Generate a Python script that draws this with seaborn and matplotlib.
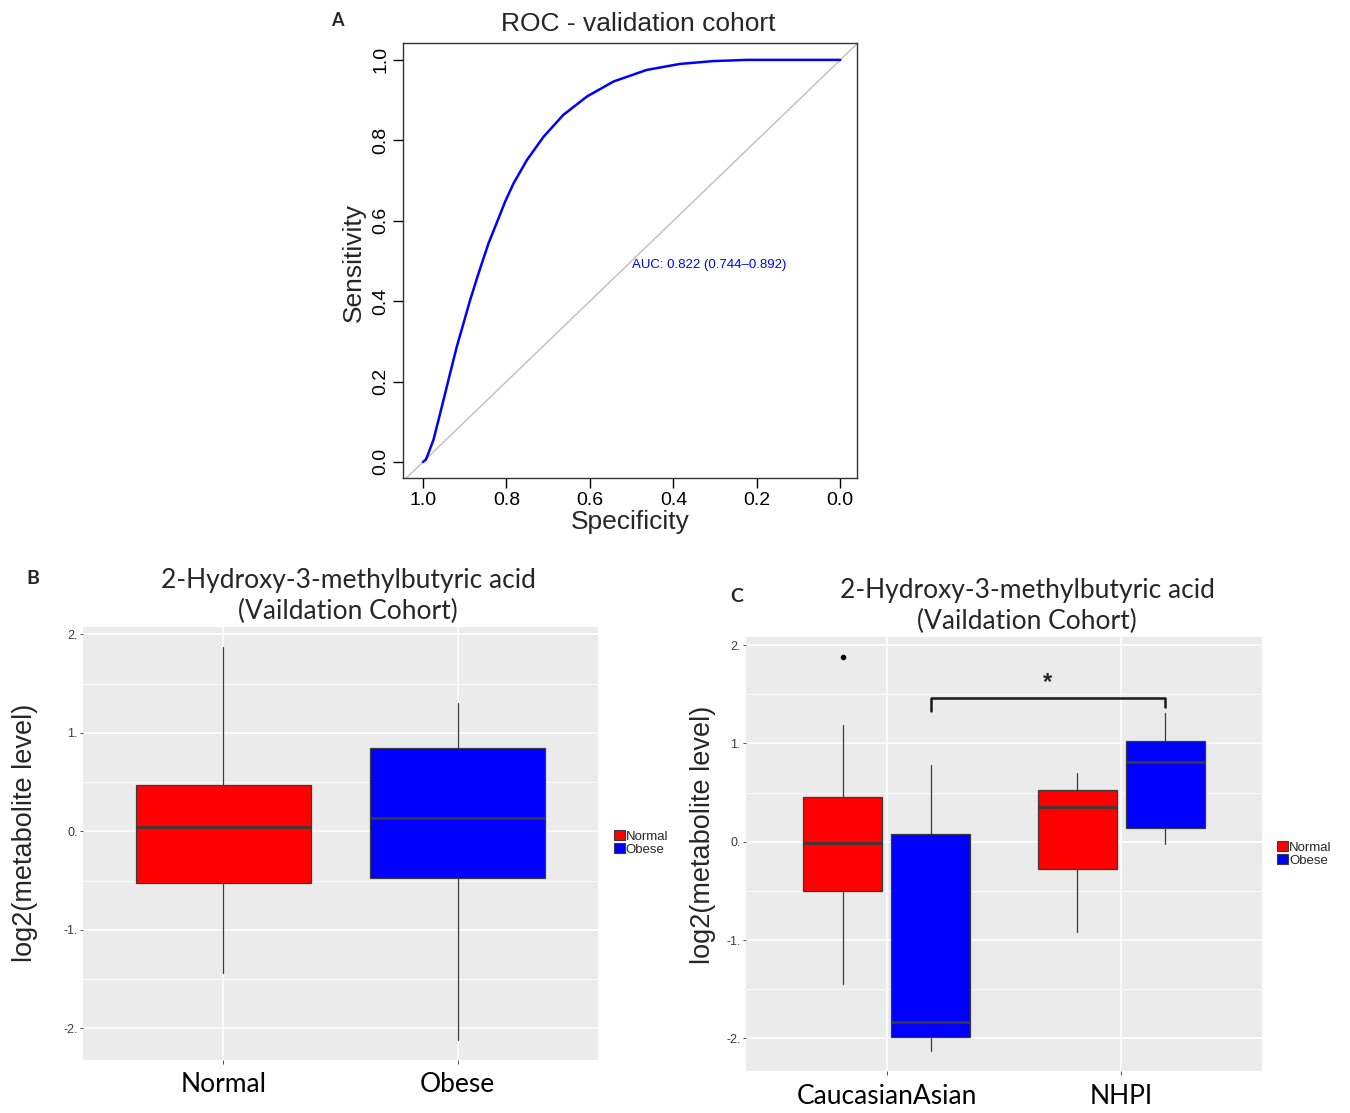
import numpy as np
import pandas as pd
import matplotlib
matplotlib.use("Agg")
import matplotlib.pyplot as plt
import seaborn as sns
from matplotlib.patches import Patch

sns.set_theme(style="white")
plt.rcParams['font.family'] = ['Liberation Sans', 'DejaVu Sans']

# ---------------- data ----------------
# Panel A: ROC curve (specificity, sensitivity)
roc_specificity = [1.0, 0.993, 0.987, 0.975, 0.963, 0.949, 0.935, 0.919, 0.903, 0.887,
                   0.867, 0.843, 0.819, 0.803, 0.783, 0.751, 0.711, 0.664, 0.607,
                   0.544, 0.464, 0.384, 0.304, 0.224, 0.144, 0.0]
roc_sensitivity = [0.0, 0.006, 0.022, 0.055, 0.104, 0.162, 0.221, 0.287, 0.345, 0.403,
                   0.469, 0.544, 0.606, 0.648, 0.693, 0.751, 0.809, 0.863, 0.909,
                   0.946, 0.975, 0.990, 0.997, 1.0, 1.0, 1.0]
auc_text = "AUC: 0.822 (0.744\u20130.892)"

# Panel B: box summaries by group
groups_b = ["Normal", "Obese"]
b_whislo = [-1.44, -2.12]
b_q1 = [-0.527, -0.47]
b_med = [0.046, 0.135]
b_q3 = [0.473, 0.847]
b_whishi = [1.875, 1.30]

# Panel C: box summaries by ethnicity (x) and status (hue)
ethnicity_c = ["CaucasianAsian", "NHPI"]
status_c = ["Normal", "Obese"]
c_normal_whislo = [-1.446, -0.918]
c_normal_q1 = [-0.503, -0.278]
c_normal_med = [-0.018, 0.355]
c_normal_q3 = [0.454, 0.531]
c_normal_whishi = [1.186, 0.70]
c_normal_fliers = [[1.882], []]
c_obese_whislo = [-2.132, -0.021]
c_obese_q1 = [-1.988, 0.137]
c_obese_med = [-1.833, 0.806]
c_obese_q3 = [0.077, 1.024]
c_obese_whishi = [0.781, 1.309]
c_obese_fliers = [[], []]

# significance bracket (Obese CaucasianAsian vs Obese NHPI)
bracket_top = 1.467
bracket_left_end = 1.326
bracket_right_end = 1.369
star_y = 1.62

status_colors = {"Normal": "#FF0000", "Obese": "#0000FF"}
title_b = "2-Hydroxy-3-methylbutyric acid\n(Vaildation Cohort)"
ylab = "log2(metabolite level)"

W, H = 1350, 1113
fig = plt.figure(figsize=(W / 100, H / 100), dpi=100)
fig.patch.set_facecolor("white")


def box_rect(l, t, r, b):
    return [l / W, 1 - b / H, (r - l) / W, (b - t) / H]


# ---------------- Panel A ----------------
axA = fig.add_axes(box_rect(403, 43, 857, 478))
axA.set_facecolor("white")
roc_df = pd.DataFrame({"Specificity": roc_specificity, "Sensitivity": roc_sensitivity})
sns.lineplot(data=roc_df, x="Specificity", y="Sensitivity", sort=False, estimator=None,
             color="#0000FF", lw=1.8, ax=axA, solid_joinstyle="round", solid_capstyle="round")
axA.axline((1, 0), (0, 1), color="#BEBEBE", lw=1.0, zorder=1)
axA.set_xlim(1.048, -0.04)
axA.set_ylim(-0.04, 1.042)
ticks = [0.0, 0.2, 0.4, 0.6, 0.8, 1.0]
axA.set_xticks(ticks)
axA.set_xticklabels([f"{t:.1f}" for t in ticks])
axA.set_yticks(ticks)
axA.set_yticklabels([f"{t:.1f}" for t in ticks], rotation=90, va="center")
axA.tick_params(axis="both", direction="out", length=7, width=1, color="black",
                labelsize=14, labelcolor="black", pad=3, bottom=True, left=True)
for s in axA.spines.values():
    s.set_visible(True)
    s.set_color("#333333")
    s.set_linewidth(1.0)
axA.set_xlabel("")
axA.set_ylabel("")
axA.text(0.5, 0.49, auc_text, color="#0000FF", fontsize=9.5, ha="left", va="center")
fig.text(638 / W, 1 - 24 / H, "ROC - validation cohort", ha="center", va="center", fontsize=19)
fig.text(630 / W, 1 - 522 / H, "Specificity", ha="center", va="center", fontsize=19)
fig.text(354 / W, 1 - 262 / H, "Sensitivity", ha="center", va="center", fontsize=19, rotation=90)
fig.text(337 / W, 1 - 20 / H, "A", ha="center", va="center", fontsize=13, fontweight="bold",
         family=["Lato", "DejaVu Sans"])


def gg_axes(ax):
    ax.set_facecolor("#EBEBEB")
    for s in ax.spines.values():
        s.set_visible(False)
    ax.set_axisbelow(True)
    ax.set_yticks([-2, -1, 0, 1, 2])
    ax.set_yticklabels(["-2.", "-1.", "0.", "1.", "2."])
    ax.set_yticks([-1.5, -0.5, 0.5, 1.5], minor=True)
    ax.grid(True, which="major", color="white", lw=1.1)
    ax.grid(True, which="minor", axis="y", color="white", lw=0.55)
    ax.tick_params(axis="y", which="major", length=2, width=0.6, color="#333333",
                   labelsize=9, labelcolor="#3d3d3d", pad=2, left=True)
    ax.tick_params(axis="y", which="minor", length=0, left=False)
    ax.tick_params(axis="x", length=3, width=0.6, color="#333333", labelsize=19,
                   labelcolor="black", pad=6, bottom=True)


def draw_boxes(ax, pos, width, whislo, q1, med, q3, whishi, fliers, color):
    stats = []
    for i in range(len(pos)):
        stats.append(dict(whislo=whislo[i], q1=q1[i], med=med[i], q3=q3[i],
                          whishi=whishi[i], fliers=fliers[i]))
    ax.bxp(stats, positions=pos, widths=width, patch_artist=True, showcaps=False,
           boxprops=dict(facecolor=color, edgecolor="#3a3a3a", lw=0.9),
           medianprops=dict(color="#3a3a3a", lw=2.0),
           whiskerprops=dict(color="#3a3a3a", lw=0.9),
           flierprops=dict(marker="o", markersize=3, markerfacecolor="black",
                           markeredgecolor="black"),
           manage_ticks=False, zorder=3)


def ylim_from(lo, hi):
    r = hi - lo
    return lo - 0.05 * r, hi + 0.05 * r


# ---------------- Panel B ----------------
axB = fig.add_axes(box_rect(83, 627, 598, 1060))
gg_axes(axB)
posB = np.arange(len(groups_b))
for i, g in enumerate(groups_b):
    draw_boxes(axB, [posB[i]], 0.75, [b_whislo[i]], [b_q1[i]], [b_med[i]], [b_q3[i]],
               [b_whishi[i]], [[]], status_colors[g])
axB.set_xticks(posB)
axB.set_xticklabels(groups_b)
for lab in axB.get_xticklabels():
    lab.set_family(["Lato", "DejaVu Sans"])
axB.set_xlim(-0.6, len(groups_b) - 0.4)
axB.set_ylim(*ylim_from(min(b_whislo), max(b_whishi)))
fig.text(348 / W, 1 - 596 / H, title_b, ha="center", va="center", fontsize=19,
         linespacing=1.25, family=["Lato", "DejaVu Sans"])
fig.text(25 / W, 1 - 833 / H, ylab, ha="center", va="center", fontsize=19.5, rotation=90)
fig.text(33 / W, 1 - 579 / H, "B", ha="center", va="center", fontsize=14, fontweight="bold",
         family=["Lato", "DejaVu Sans"])

handles = [Patch(facecolor=status_colors[s], edgecolor="#3a3a3a", lw=0.8, label=s) for s in status_c]
fig.legend(handles=handles, loc="center left", bbox_to_anchor=(614 / W, 1 - 843 / H),
           frameon=False, fontsize=9.5, handlelength=0.8, handleheight=0.8,
           handletextpad=0.1, labelspacing=0.05, borderpad=0, borderaxespad=0)

# ---------------- Panel C ----------------
axC = fig.add_axes(box_rect(746, 637, 1262, 1071))
gg_axes(axC)
posC = np.arange(len(ethnicity_c))
dodge = 0.75 / len(status_c)
box_w = dodge * 0.9
offsets = {"Normal": -dodge / 2, "Obese": dodge / 2}
draw_boxes(axC, posC + offsets["Normal"], box_w, c_normal_whislo, c_normal_q1, c_normal_med,
           c_normal_q3, c_normal_whishi, c_normal_fliers, status_colors["Normal"])
draw_boxes(axC, posC + offsets["Obese"], box_w, c_obese_whislo, c_obese_q1, c_obese_med,
           c_obese_q3, c_obese_whishi, c_obese_fliers, status_colors["Obese"])
axC.set_xticks(posC)
axC.set_xticklabels(ethnicity_c)
for lab in axC.get_xticklabels():
    lab.set_family(["Lato", "DejaVu Sans"])
axC.set_xlim(-0.6, len(ethnicity_c) - 0.4)
all_c = c_normal_whislo + c_obese_whislo + c_normal_whishi + c_obese_whishi + [1.882]
axC.set_ylim(*ylim_from(min(all_c), max(all_c)))
x1 = posC[0] + offsets["Obese"]
x2 = posC[1] + offsets["Obese"]
axC.plot([x1, x1, x2, x2], [bracket_left_end, bracket_top, bracket_top, bracket_right_end],
         color="#1a1a1a", lw=1.8, zorder=4)
axC.text((x1 + x2) / 2, star_y, "*", ha="center", va="center", fontsize=17, fontweight="bold")
fig.text(1027 / W, 1 - 606 / H, title_b, ha="center", va="center", fontsize=19,
         linespacing=1.25, family=["Lato", "DejaVu Sans"])
fig.text(703 / W, 1 - 835 / H, ylab, ha="center", va="center", fontsize=19.5, rotation=90)
fig.text(737 / W, 1 - 596 / H, "C", ha="center", va="center", fontsize=14, fontweight="bold",
         family=["Lato", "DejaVu Sans"])
fig.legend(handles=handles, loc="center left", bbox_to_anchor=(1277 / W, 1 - 854 / H),
           frameon=False, fontsize=9.5, handlelength=0.8, handleheight=0.8,
           handletextpad=0.1, labelspacing=0.05, borderpad=0, borderaxespad=0)

fig.savefig("out.png", dpi=100, facecolor="white")
